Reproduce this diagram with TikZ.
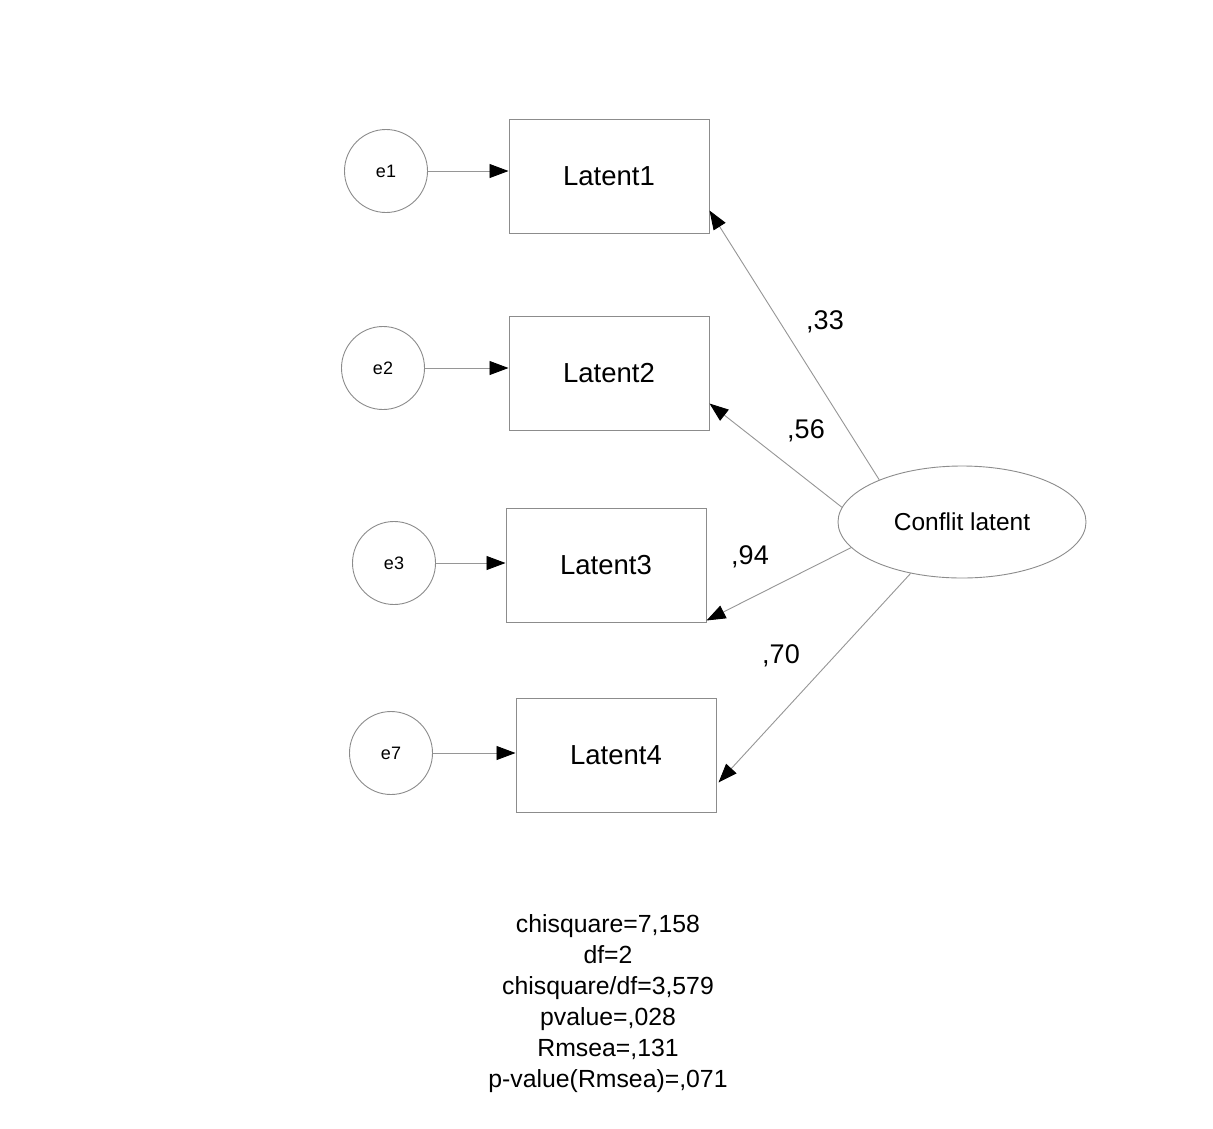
\documentclass[tikz,border=0pt]{standalone}
\usepackage{fontspec}
\setmainfont{Liberation Sans}
\usetikzlibrary{arrows.meta,shapes.geometric}
\definecolor{linegray}{RGB}{150,150,150}
\definecolor{boxgray}{RGB}{140,140,140}
\tikzset{
  obsbox/.style={draw=boxgray, line width=1pt, minimum width=200pt, minimum height=114pt, inner sep=0pt, font=\fontsize{27.5}{31}\selectfont},
  errcirc/.style={circle, draw=boxgray, line width=0.9pt, minimum size=83pt, inner sep=0pt, font=\fontsize{18}{21}\selectfont},
  latell/.style={ellipse, draw=boxgray, line width=0.9pt, minimum width=248pt, minimum height=112pt, inner sep=0pt, font=\fontsize{24.5}{28}\selectfont},
  conn/.style={draw=linegray, line width=0.9pt, -{Triangle[length=19pt,width=14pt,color=black]}},
  coef/.style={font=\fontsize{27}{30}\selectfont, inner sep=0pt},
}
\begin{document}
\begin{tikzpicture}[x=1pt,y=-1pt]
\useasboundingbox (0,0) rectangle (1213,1128);
\fill[white] (0,0) rectangle (1213,1128);
\node[obsbox] (L1) at (609,176) {Latent1};
\node[obsbox] (L2) at (609,373) {Latent2};
\node[obsbox] (L3) at (606,565) {Latent3};
\node[obsbox] (L4) at (616,755) {Latent4};
\node[errcirc] (e1) at (386,171) {e1};
\node[errcirc] (e2) at (383,368) {e2};
\node[errcirc] (e3) at (394,563) {e3};
\node[errcirc] (e7) at (391,753) {e7};
\node[latell] (C) at (962,522) {Conflit latent};
\draw[conn] (e1.east) -- (e1.east -| L1.west);
\draw[conn] (e2.east) -- (e2.east -| L2.west);
\draw[conn] (e3.east) -- (e3.east -| L3.west);
\draw[conn] (e7.east) -- (e7.east -| L4.west);
\draw[conn] (C.153.4) -- ([yshift=23pt]L1.south east);
\draw[conn] (C.173.5) -- ([yshift=27pt]L2.south east);
\draw[conn] (C.193) -- ([yshift=2pt]L3.south east);
\draw[conn] (C.225.5) -- ([yshift=30pt,xshift=2pt]L4.south east);
\node[coef] (k1) at (825,322) {,33};
\node[coef] (k2) at (806,431) {,56};
\node[coef] (k3) at (750,557) {,94};
\node[coef] (k4) at (781,656) {,70};
\node[align=center, font=\fontsize{24.8}{31}\selectfont, inner sep=0pt] (fit) at (608,1004) {chisquare=7,158\\df=2\\chisquare/df=3,579\\pvalue=,028\\Rmsea=,131\\p-value(Rmsea)=,071};
\end{tikzpicture}
\end{document}
